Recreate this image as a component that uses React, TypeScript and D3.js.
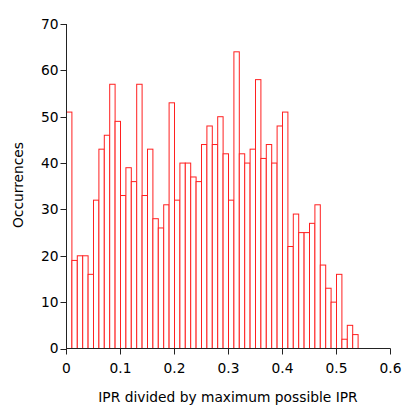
import React from "react";
import * as d3 from "d3";

const binStarts: number[] = d3.range(54).map((i) => i / 100);
const counts: number[] = [
  51, 19, 20, 20, 16, 32, 43, 46, 57, 49,
  33, 39, 36, 57, 33, 43, 28, 26, 31, 53,
  32, 40, 40, 37, 36, 44, 48, 44, 50, 42,
  32, 64, 42, 40, 43, 58, 41, 44, 40, 48,
  51, 22, 29, 25, 25, 27, 31, 18, 13, 10,
  16, 2, 5, 3,
];
const binWidth = 0.01;
const xTicks: number[] = [0, 0.1, 0.2, 0.3, 0.4, 0.5, 0.6];
const yTicks: number[] = [0, 10, 20, 30, 40, 50, 60, 70];

export default function App() {
  const W = 415, H = 415;
  const left = 66.5, right = 390.5, top = 24, bottom = 348.5;
  const x = d3.scaleLinear().domain([0, 0.6]).range([left, right]);
  const y = d3.scaleLinear().domain([0, 70]).range([bottom, top]);
  const font = "Verdana, 'DejaVu Sans', sans-serif";
  const axisColor = "#222";
  const fs = 13.8;
  return (
    <svg width={W} height={H} style={{ position: "absolute", left: 0, top: 0 }} fontFamily={font}>
      <rect x={0} y={0} width={W} height={H} fill="white" />
      {counts.map((c, i) => (
        <rect
          key={i}
          x={x(binStarts[i])}
          y={y(c)}
          width={x(binStarts[i] + binWidth) - x(binStarts[i])}
          height={y(0) - y(c)}
          fill="white"
          stroke="#ff2020"
          strokeWidth={1}
        />
      ))}
      <line x1={left} x2={left} y1={top} y2={bottom} stroke={axisColor} />
      <line x1={left} x2={right} y1={bottom} y2={bottom} stroke={axisColor} />
      {yTicks.map((t) => (
        <g key={"y" + t}>
          <line x1={left - 6} x2={left} y1={Math.round(y(t)) + 0.5} y2={Math.round(y(t)) + 0.5} stroke={axisColor} />
          <text x={left - 8} y={y(t)} dy="0.35em" textAnchor="end" fontSize={fs} fill="#000">
            {t}
          </text>
        </g>
      ))}
      {xTicks.map((t) => (
        <g key={"x" + t}>
          <line x1={x(t)} x2={x(t)} y1={bottom} y2={bottom + 6} stroke={axisColor} />
          <text x={x(t)} y={373} textAnchor="middle" fontSize={fs} fill="#000">
            {t}
          </text>
        </g>
      ))}
      <text x={228} y={402} textAnchor="middle" fontSize={fs} fill="#000">
        IPR divided by maximum possible IPR
      </text>
      <text
        transform={`translate(23, 185) rotate(-90)`}
        textAnchor="middle"
        fontSize={fs}
        fill="#000"
      >
        Occurrences
      </text>
    </svg>
  );
}
